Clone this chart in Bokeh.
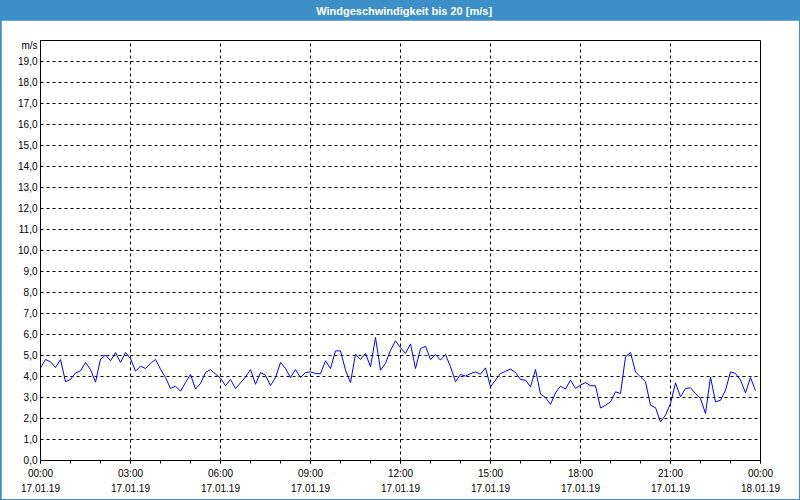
import numpy as np
from bokeh.plotting import figure
from bokeh.models import FixedTicker, Range1d, ColumnDataSource
from bokeh.layouts import column
from bokeh.embed import file_html
from bokeh.resources import INLINE
from bokeh.core.properties import value

# ---------------- data ----------------
title_text = "Windgeschwindigkeit bis 20 [m/s]"
unit_label = "m/s"

# wind speed [m/s], one value every 10 minutes, 17.01.19 00:00 .. 23:50
speed = [
    4.41, 4.81, 4.70, 4.43, 4.81, 3.75, 3.86, 4.17, 4.27, 4.67, 4.33, 3.73,
    4.83, 5.02, 4.75, 5.14, 4.67, 5.14, 4.86, 4.25, 4.49, 4.38, 4.62, 4.81,
    4.35, 3.95, 3.43, 3.54, 3.30, 3.71, 4.10, 3.40, 3.67, 4.19, 4.33, 4.12,
    3.92, 3.56, 3.86, 3.43, 3.70, 3.98, 4.33, 3.63, 4.19, 4.06, 3.57, 3.95,
    4.67, 4.38, 3.95, 4.33, 3.95, 4.19, 4.22, 4.14, 4.13, 4.75, 4.38, 5.22,
    5.22, 4.30, 3.71, 5.06, 4.81, 5.10, 4.46, 5.86, 4.30, 4.62, 5.25, 5.70,
    5.37, 5.10, 5.55, 4.38, 5.33, 5.44, 4.81, 5.05, 4.78, 5.05, 4.46, 3.75,
    4.10, 4.02, 4.14, 4.22, 4.11, 4.41, 3.51, 3.83, 4.14, 4.25, 4.35, 4.19,
    3.86, 3.83, 3.51, 4.33, 3.16, 3.00, 2.67, 3.22, 3.54, 3.40, 3.83, 3.43,
    3.59, 3.71, 3.56, 3.56, 2.50, 2.63, 2.79, 3.27, 3.19, 4.94, 5.14, 4.22,
    3.98, 3.75, 2.63, 2.52, 1.84, 2.16, 2.71, 3.70, 3.03, 3.43, 3.46, 3.19,
    2.95, 2.24, 3.98, 2.79, 2.87, 3.35, 4.22, 4.14, 3.83, 3.22, 3.95, 3.32,
]
sample_minutes = list(range(0, 24 * 60, 10))   # sample times, minutes after 00:00

tick_hours = [0, 3, 6, 9, 12, 15, 18, 21, 24]
tick_times = ["00:00", "03:00", "06:00", "09:00", "12:00", "15:00", "18:00", "21:00", "00:00"]
tick_dates = ["17.01.19"] * 8 + ["18.01.19"]
minor_hours = list(range(0, 25))
y_ticks = list(range(0, 20))
y_grid = list(range(0, 21))
unit_tick = 19.76   # unit label sits just below the top edge of the frame

# ---------------- style ----------------
BLUE = "#3C8FC7"
FONT = "Liberation Sans"

head = figure(width=800, height=20, x_range=Range1d(0, 1), y_range=Range1d(0, 1),
              x_axis_type=None, y_axis_type=None, toolbar_location=None,
              output_backend="svg", min_border=0, background_fill_color=BLUE,
              border_fill_color=BLUE, outline_line_color=None)
head.grid.visible = False
head.text(x=[0.505], y=[0.5], text=[title_text], text_color="white",
          text_font=value(FONT), text_font_size="11px", text_font_style="bold",
          text_align="center", text_baseline="middle")

src = ColumnDataSource(dict(t=[m / 60 for m in sample_minutes], v=speed))

p = figure(width=798, height=479, x_range=Range1d(0, 24), y_range=Range1d(0, 20),
           toolbar_location=None, output_backend="svg",
           min_border_left=39, min_border_right=39, min_border_top=20, min_border_bottom=39,
           background_fill_color="white", border_fill_color="white",
           outline_line_color="black", outline_line_width=1, margin=(0, 1, 1, 1))

p.line("t", "v", source=src, line_color="#0000FF", line_width=1)

# x axis
xa = p.xaxis[0]
xa.ticker = FixedTicker(ticks=tick_hours, minor_ticks=minor_hours)
xa.major_label_overrides = {h: f"{t}\n{d}" for h, t, d in zip(tick_hours, tick_times, tick_dates)}
xa.major_tick_in = 0
xa.major_tick_out = 3
xa.minor_tick_in = 0
xa.minor_tick_out = 3
xa.axis_line_color = "black"
xa.major_tick_line_color = "black"
xa.minor_tick_line_color = "black"
xa.major_label_standoff = 4
xa.major_label_text_font = FONT
xa.major_label_text_font_size = "10px"
xa.major_label_text_color = "black"
xa.major_label_text_line_height = 1.45

# y axis
ya = p.yaxis[0]
ya.ticker = FixedTicker(ticks=y_ticks + [unit_tick], minor_ticks=[])
overrides = {v: f"{v},0" for v in y_ticks}
overrides[unit_tick] = unit_label
ya.major_label_overrides = overrides
ya.major_tick_in = 0
ya.major_tick_out = 0
ya.minor_tick_in = 0
ya.minor_tick_out = 0
ya.axis_line_color = "black"
ya.major_label_standoff = 3
ya.major_label_text_font = FONT
ya.major_label_text_font_size = "10px"
ya.major_label_text_color = "black"

# grids
p.xgrid.ticker = FixedTicker(ticks=tick_hours)
p.ygrid.ticker = FixedTicker(ticks=y_grid)
for g in (p.xgrid[0], p.ygrid[0]):
    g.grid_line_color = "black"
    g.grid_line_dash = "3 3"
    g.grid_line_width = 1
    g.grid_line_alpha = 1.0

layout = column(head, p, spacing=0, styles={"background-color": BLUE})

open("out.html", "w").write(file_html(layout, INLINE))
